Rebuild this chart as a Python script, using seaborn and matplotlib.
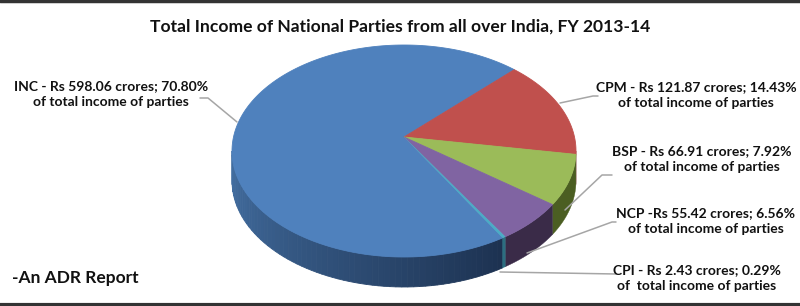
import numpy as np
import matplotlib
matplotlib.use("Agg")
import matplotlib.pyplot as plt
import seaborn as sns
from matplotlib.colors import to_rgb

# ---- data ----
parties = ["INC", "CPM", "BSP", "NCP", "CPI"]
income = [598.06, 121.87, 66.91, 55.42, 2.43]
percent = [70.80, 14.43, 7.92, 6.56, 0.29]
labels = [
    "INC - Rs 598.06 crores; 70.80%\nof total income of parties",
    "CPM - Rs 121.87 crores; 14.43%\nof total income of parties",
    "BSP - Rs 66.91 crores; 7.92%\nof total income of parties",
    "NCP -Rs 55.42 crores; 6.56%\nof total income of parties",
    "CPI - Rs 2.43 crores; 0.29%\nof  total income of parties",
]
title = "Total Income of National Parties from all over India, FY 2013-14"
note = "-An ADR Report"

top_colors = ["#4F81BD", "#C0504D", "#9BBB59", "#8064A2", "#4BACC6"]
side_colors = ["#2E4D74", "#7A2F2D", "#4B5E22", "#3A2B48", "#2C6E80"]

sns.set_style("white")
plt.rcParams["font.family"] = ["Lato", "DejaVu Sans"]

fig = plt.figure(figsize=(8.0, 3.06), dpi=100)
ax = fig.add_axes([0, 0, 1, 1])
ax.set_xlim(0, 800)
ax.set_ylim(306, 0)
ax.axis("off")

# geometry (pixels)
cx, cy = 404, 151      # ellipse centre
a, b = 172, 106        # semi axes
apx, apy = 404, 137    # apex of slices (perspective)
depth = 30
START = 305.0          # INC starts here, going clockwise

total = sum(income)
spans = [360.0 * v / total for v in income]
starts = []
s = START
for sp in spans:
    starts.append(s)
    s -= sp

def pt(t, dy=0.0):
    r = np.deg2rad(t)
    return cx + a * np.cos(r), cy - b * np.sin(r) + dy

# ---- side walls (front half only: angles in (-180, 0)) ----
for i, (st, sp) in enumerate(zip(starts, spans)):
    hi, lo = st, st - sp
    for shift in (0, -360, 360):
        h, l = hi + shift, lo + shift
        h2, l2 = min(h, 0.0), max(l, -180.0)
        if h2 <= l2:
            continue
        n = max(2, int((h2 - l2) / 2) + 2)
        ts = np.linspace(l2, h2, n)
        if i == 0:
            c0 = np.array(to_rgb("#4470A3"))
            c1 = np.array(to_rgb("#1C3150"))
            for k in range(n - 1):
                f = (ts[k] - (-180)) / 125.0
                f = min(max(f, 0), 1)
                col = c0 * (1 - f) + c1 * f
                x1, y1 = pt(ts[k]); x2, y2 = pt(ts[k + 1])
                ax.fill([x1, x2, x2, x1], [y1, y2, y2 + depth, y1 + depth],
                        color=col, lw=0.6, ec=col)
        else:
            xs_t, ys_t = zip(*[pt(t) for t in ts])
            xs_b, ys_b = zip(*[pt(t, depth) for t in ts[::-1]])
            ax.fill(list(xs_t) + list(xs_b), list(ys_t) + list(ys_b),
                    color=side_colors[i], lw=0.3, ec=side_colors[i], zorder=2)

# ---- top faces ----
for i, (st, sp) in enumerate(zip(starts, spans)):
    n = max(3, int(sp) + 3)
    ts = np.linspace(st, st - sp, n)
    xs = [apx] + [pt(t)[0] for t in ts]
    ys = [apy] + [pt(t)[1] for t in ts]
    lw = 0.6 if sp > 3 else 0.2
    ax.fill(xs, ys, color=top_colors[i], lw=lw, ec=top_colors[i],
            zorder=3 if sp > 3 else 3.5)

# ---- leader lines ----
lc = "#A6A6A6"
leaders = [
    [(200, 98), (208, 98), (237, 122)],
    [(560, 103), (593, 96), (598, 96)],
    [(565, 210), (602, 175), (612, 175)],
    [(527, 253), (612, 222), (616, 222)],
    [(500, 272), (616, 274)],
]
for pts in leaders:
    xs, ys = zip(*pts)
    ax.plot(xs, ys, color=lc, lw=1.1, zorder=4)

# ---- labels ----
label_pos = [(111, 94), (696, 95), (702, 159), (706, 221), (697, 278)]
for lab, (x, y) in zip(labels, label_pos):
    ax.text(x, y, lab, ha="center", va="center", fontsize=10,
            fontweight="bold", color="#111111", linespacing=1.35, zorder=5)

ax.text(400, 27, title, ha="center", va="center", fontsize=12.6,
        fontweight="bold", color="#111111")
ax.text(12, 278, note, ha="left", va="center", fontsize=12.5,
        fontweight="bold", color="#111111")

# frame lines top / bottom
ax.plot([0, 800], [1, 1], color="#333333", lw=2.5, zorder=6)
ax.plot([0, 800], [304.5, 304.5], color="#333333", lw=3, zorder=6)

fig.savefig("out.png", dpi=100)
